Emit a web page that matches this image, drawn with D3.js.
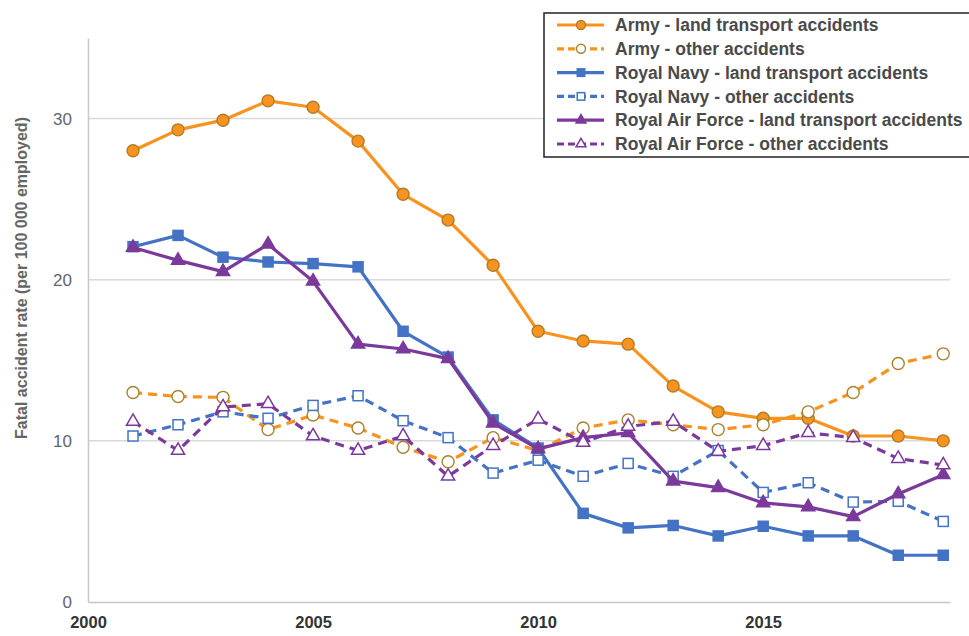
<!DOCTYPE html>
<html>
<head>
<meta charset="utf-8">
<script src="https://cdn.jsdelivr.net/npm/d3@7"></script>
<style>
    body { margin: 0; background: #fff; }
    svg { display: block; font-family: "Liberation Sans", Arial, sans-serif; }
</style>
</head>
<body>
<svg id="chart" width="969" height="636"></svg>
<script>

// years on the x axis
let years = [2001, 2002, 2003, 2004, 2005, 2006, 2007, 2008, 2009, 2010,
             2011, 2012, 2013, 2014, 2015, 2016, 2017, 2018, 2019];

let army_land = [28.0, 29.3, 29.9, 31.1, 30.7, 28.6, 25.3, 23.7, 20.9, 16.8,
                 16.2, 16.0, 13.4, 11.8, 11.4, 11.4, 10.3, 10.3, 10.0];
let army_other = [13.0, 12.75, 12.7, 10.7, 11.6, 10.8, 9.6, 8.7, 10.2, 9.4,
                  10.8, 11.3, 11.0, 10.7, 11.0, 11.8, 13.0, 14.8, 15.4];
let navy_land = [22.05, 22.75, 21.4, 21.1, 21.0, 20.8, 16.8, 15.2, 11.3, 9.55,
                 5.5, 4.6, 4.75, 4.1, 4.7, 4.1, 4.1, 2.9, 2.9];
let navy_other = [10.3, 11.0, 11.8, 11.4, 12.2, 12.8, 11.25, 10.2, 8.0, 8.8,
                  7.8, 8.6, 7.8, 9.4, 6.8, 7.4, 6.2, 6.25, 5.0];
let raf_land = [22.0, 21.2, 20.5, 22.2, 19.9, 16.0, 15.7, 15.1, 11.1, 9.5,
                10.2, 10.5, 7.5, 7.1, 6.15, 5.9, 5.3, 6.7, 7.9];
let raf_other = [11.2, 9.4, 12.1, 12.3, 10.3, 9.4, 10.3, 7.8, 9.7, 11.35,
                 9.9, 10.9, 11.2, 9.35, 9.7, 10.5, 10.2, 8.9, 8.5];

let series_names = [
    'Army - land transport accidents',
    'Army - other accidents',
    'Royal Navy - land transport accidents',
    'Royal Navy - other accidents',
    'Royal Air Force - land transport accidents',
    'Royal Air Force - other accidents'
];
let series_values = [army_land, army_other, navy_land, navy_other, raf_land, raf_other];

let y_ticks = [0, 10, 20, 30];
let x_ticks = [2000, 2005, 2010, 2015];

// looks for each series
let orange = '#f7931e', blue = '#4472c4', purple = '#7b3a9b';
let styles = [
    {color: orange, dash: null, shape: 'circle', filled: true, edge: '#b07d2a'},
    {color: orange, dash: '9,6', shape: 'circle', filled: false, edge: '#a8812f'},
    {color: blue, dash: null, shape: 'square', filled: true, edge: blue},
    {color: blue, dash: '9,6', shape: 'square', filled: false, edge: blue},
    {color: purple, dash: null, shape: 'triangle', filled: true, edge: purple},
    {color: purple, dash: '9,6', shape: 'triangle', filled: false, edge: purple}
];

let svg = d3.select('#chart');

let x = d3.scaleLinear().domain([2000, 2019.15]).range([88, 950]);
let y = d3.scaleLinear().domain([0, 35]).range([602, 38]);

// gridlines
svg.append('g')
    .selectAll('line')
    .data(y_ticks.filter(d => d > 0))
    .join('line')
    .attr('x1', x(2000))
    .attr('x2', x(2019.15))
    .attr('y1', d => y(d))
    .attr('y2', d => y(d))
    .attr('stroke', '#d9d9d9')
    .attr('stroke-width', 1.5);

// axes
let y_axis = svg.append('g')
    .attr('transform', 'translate(' + x(2000) + ',0)')
    .call(d3.axisLeft(y).tickValues(y_ticks).tickSize(0).tickPadding(16));
y_axis.select('.domain').attr('stroke', '#c8c8c8').attr('stroke-width', 1.5);
y_axis.selectAll('text')
    .attr('font-size', '17px')
    .attr('fill', '#5f6470')
    .attr('font-family', '"Liberation Sans", Arial, sans-serif');

let x_axis = svg.append('g')
    .attr('transform', 'translate(0,' + y(0) + ')')
    .call(d3.axisBottom(x).tickValues(x_ticks).tickFormat(d3.format('d')).tickSize(0).tickPadding(14));
x_axis.select('.domain').attr('stroke', '#c8c8c8').attr('stroke-width', 1.5);
x_axis.selectAll('text')
    .attr('font-size', '16.5px')
    .attr('font-weight', 'bold')
    .attr('fill', '#333')
    .attr('font-family', '"Liberation Sans", Arial, sans-serif');

// y axis title
svg.append('text')
    .attr('transform', 'translate(27,278) rotate(-90)')
    .attr('text-anchor', 'middle')
    .attr('font-size', '16px')
    .attr('font-weight', 'bold')
    .attr('fill', '#666')
    .text('Fatal accident rate (per 100 000 employed)');

// marker drawing
function draw_marker(g, st, cx, cy, scale) {
    let fill = st.filled ? st.color : '#fff';
    if (st.shape == 'circle') {
        g.append('circle')
            .attr('cx', cx).attr('cy', cy).attr('r', 6 * scale)
            .attr('fill', fill).attr('stroke', st.edge).attr('stroke-width', 1.4);
    } else if (st.shape == 'square') {
        let s = 10 * scale;
        g.append('rect')
            .attr('x', cx - s / 2).attr('y', cy - s / 2).attr('width', s).attr('height', s)
            .attr('fill', fill).attr('stroke', st.edge).attr('stroke-width', 1.5);
    } else {
        g.append('path')
            .attr('transform', 'translate(' + cx + ',' + cy + ')')
            .attr('d', d3.symbol(d3.symbolTriangle, 75 * scale * scale))
            .attr('fill', fill).attr('stroke', st.edge).attr('stroke-width', 1.5);
    }
}

let line = d3.line()
    .x((d, i) => x(years[i]))
    .y(d => y(d));

// lines and markers
series_values.forEach(function (vals, k) {
    let st = styles[k];
    let g = svg.append('g');
    g.append('path')
        .attr('d', line(vals))
        .attr('fill', 'none')
        .attr('stroke', st.color)
        .attr('stroke-width', 3.2)
        .attr('stroke-dasharray', st.dash)
        .attr('stroke-linejoin', 'round');
    vals.forEach(function (v, i) {
        draw_marker(g, st, x(years[i]), y(v), 1);
    });
});

// legend
let legend = svg.append('g');
legend.append('rect')
    .attr('x', 544).attr('y', 13)
    .attr('width', 440).attr('height', 144)
    .attr('fill', '#fff')
    .attr('stroke', '#222')
    .attr('stroke-width', 1.5);

series_names.forEach(function (name, k) {
    let st = styles[k];
    let ly = 25 + k * 23.8;
    let item = legend.append('g');
    item.append('line')
        .attr('x1', 557).attr('x2', 604)
        .attr('y1', ly).attr('y2', ly)
        .attr('stroke', st.color)
        .attr('stroke-width', 3.2)
        .attr('stroke-dasharray', st.dash ? '7,4' : null);
    draw_marker(item, st, 581, ly, 0.75);
    item.append('text')
        .attr('x', 615).attr('y', ly)
        .attr('dy', '0.35em')
        .attr('font-size', '17.5px')
        .attr('font-weight', 'bold')
        .attr('fill', '#4a4a4a')
        .text(name);
});

</script>
</body>
</html>
